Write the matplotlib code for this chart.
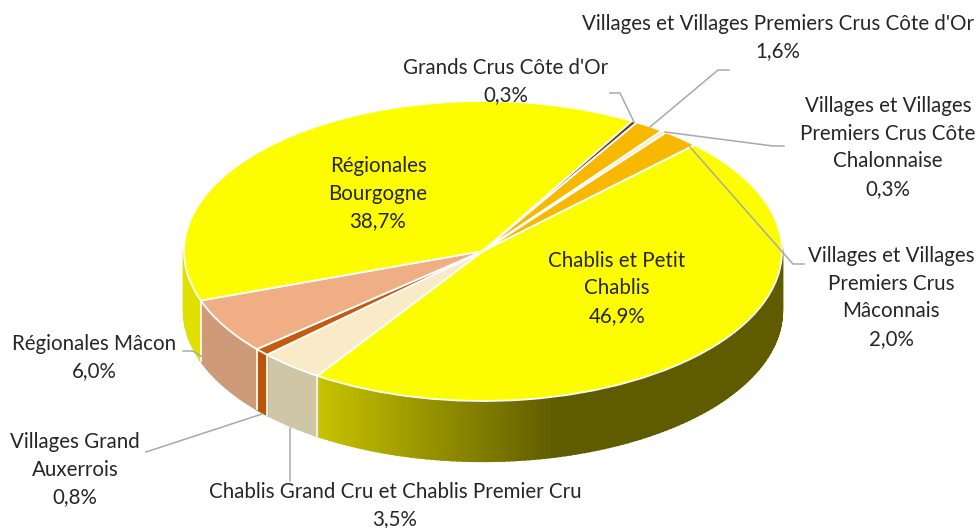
import numpy as np
import matplotlib
matplotlib.use("Agg")
import matplotlib.pyplot as plt
from matplotlib.colors import to_rgb

plt.rcParams['font.family'] = ['Lato', 'DejaVu Sans']

categories = ["Chablis et Petit Chablis", "Chablis Grand Cru et Chablis Premier Cru",
              "Villages Grand Auxerrois", "Régionales Mâcon", "Régionales Bourgogne",
              "Grands Crus Côte d'Or", "Villages et Villages Premiers Crus Côte d'Or",
              "Villages et Villages Premiers Crus Côte Chalonnaise",
              "Villages et Villages Premiers Crus Mâconnais"]
values = [46.9, 3.5, 0.8, 6.0, 38.7, 0.3, 1.6, 0.3, 2.0]
top_colors = ["#FDFD00", "#F9EBC8", "#C55A11", "#F0AE85", "#FDFD00",
              "#6B3A1A", "#F8B800", "#FBE9BC", "#F8B800"]
wall_colors = ["#5F5C00", "#CFC6A6", "#B85508", "#CF9A78", "#E0E000",
               "#6B3A1A", "#C89400", "#CFC6A6", "#C89400"]

W, H = 980, 528
CX, CY, A, B = 483, 251, 299, 150
DEPTH = 60 / B
START = 45

fig = plt.figure(figsize=(W / 100, H / 100), dpi=100)
ax = fig.add_axes([0, 0, 1, 1])

# walls
vals = np.array(values, dtype=float)
edges = START - np.concatenate([[0], np.cumsum(vals / vals.sum() * 360)])


def wall_shade(i, c):
    base = np.array(to_rgb(wall_colors[i]))
    if i == 0:
        light = np.array(to_rgb("#C8C400"))
        t = np.clip((c + 0.56) / 0.80, 0, 1)
        return tuple(light * (1 - t) + base * t)
    return tuple(base)


for i in range(len(vals)):
    th = np.arange(edges[i], edges[i + 1] - 1.0, -1.0)
    th = np.append(th, edges[i + 1])
    for a0, a1 in zip(th[:-1], th[1:]):
        if np.sin(np.radians(a0)) > 0.02 and np.sin(np.radians(a1)) > 0.02:
            continue
        ra, rb = np.radians([a0, a1])
        xs = [np.cos(ra), np.cos(rb), np.cos(rb), np.cos(ra)]
        ys = [np.sin(ra), np.sin(rb), np.sin(rb) - DEPTH, np.sin(ra) - DEPTH]
        col = wall_shade(i, np.cos((ra + rb) / 2))
        ax.fill(xs, ys, facecolor=col, edgecolor=col, lw=1.6, zorder=1 + 0.001 * i)

wedges, _ = ax.pie(vals, colors=top_colors, startangle=START, counterclock=False,
                   radius=1, center=(0, 0),
                   wedgeprops=dict(edgecolor="white", linewidth=1.3, zorder=3))
for e in edges[1:5]:
    r = np.radians(e)
    ax.plot([np.cos(r)] * 2, [np.sin(r), np.sin(r) - DEPTH], color="#F4F1E4", lw=1.4, zorder=2)
ax.set_aspect('auto')
ax.set_xlim(-CX / A, (W - CX) / A)
ax.set_ylim((CY - H) / B, CY / B)
ax.axis('off')

# overlay in pixel coordinates for labels and leader lines
ov = fig.add_axes([0, 0, 1, 1], facecolor='none')
ov.set_xlim(0, W)
ov.set_ylim(H, 0)
ov.axis('off')

leaders = [
    ([610, 620, 634], [93, 93, 122]),
    ([729, 718, 650], [70, 70, 127]),
    ([784, 773, 665], [146, 146, 132]),
    ([804, 793, 690], [264, 264, 147]),
    ([183, 193, 201], [351, 351, 356]),
    ([146, 262], [452, 414]),
    ([290, 290], [428, 481]),
]
for xs, ys in leaders:
    ov.plot(xs, ys, color="#A9A9A9", lw=1.1, zorder=4)

labels = [
    ("Villages et Villages Premiers Crus Côte d'Or\n1,6%", 778, 37.5),
    ("Grands Crus Côte d'Or\n0,3%", 506, 81.5),
    ("Villages et Villages\nPremiers Crus Côte\nChalonnaise\n0,3%", 888, 147.5),
    ("Villages et Villages\nPremiers Crus\nMâconnais\n2,0%", 891, 297.5),
    ("Chablis et Petit\nChablis\n46,9%", 617, 288.5),
    ("Régionales\nBourgogne\n38,7%", 378, 193.5),
    ("Régionales Mâcon\n6,0%", 94, 357.5),
    ("Villages Grand\nAuxerrois\n0,8%", 75, 469.5),
    ("Chablis Grand Cru et Chablis Premier Cru\n3,5%", 395, 505.5),
]
for txt, x, y in labels:
    ov.text(x, y, txt, ha='center', va='center', fontsize=14.8, color="#262626",
            linespacing=1.48, zorder=5)

fig.savefig("out.png", dpi=100)
